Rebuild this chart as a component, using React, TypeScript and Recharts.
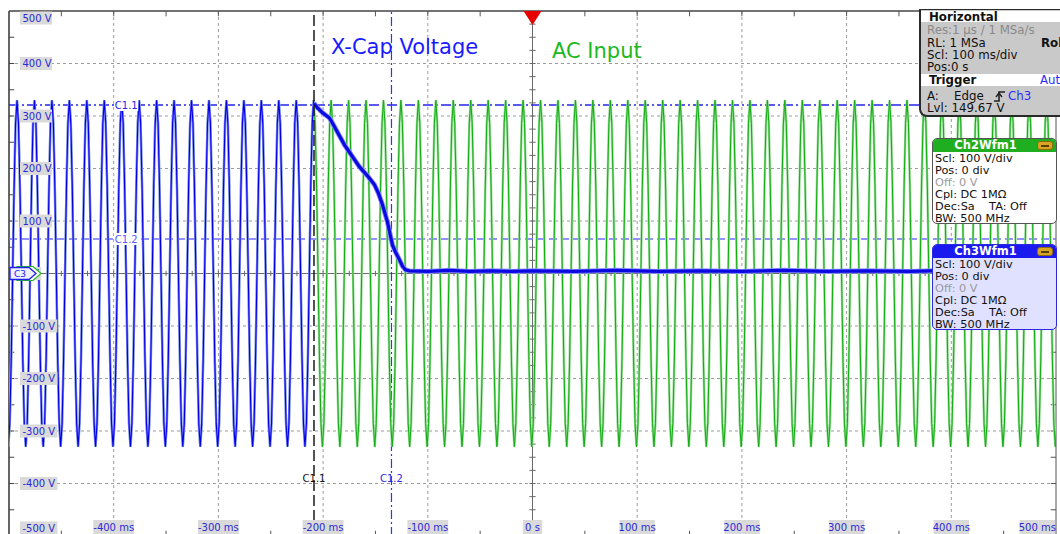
import React from "react";
import { LineChart, Line, XAxis, YAxis, ReferenceLine, ReferenceDot } from "recharts";

// ---------- axis ticks ----------
const timeTicksMs = [-500, -400, -300, -200, -100, 0, 100, 200, 300, 400, 500];
const timeTickLabels = ["", "-400 ms", "-300 ms", "-200 ms", "-100 ms", "0 s", "100 ms", "200 ms", "300 ms", "400 ms", "500 ms"];
const voltTicks = [500, 400, 300, 200, 100, 0, -100, -200, -300, -400, -500];
const voltTickLabels = ["500 V", "400 V", "300 V", "200 V", "100 V", "0 V", "-100 V", "-200 V", "-300 V", "-400 V", "-500 V"];

const acCycleV = [330, 286, 165, 0, -165, -286, -330, -286, -165, 0, 165, 286];
const acPeriodMs = 16.667;
const acFirstPeakMs = -509.0;
const acCycles = 62;

// ---------- cursors ----------
const cursorC11TimeMs = -208.7;
const cursorC12TimeMs = -134.7;
const cursorC11Volt = 321;
const cursorC12Volt = 65.7;

// ---------- X-cap voltage (Ch3) after disconnect ----------
const ch3DischargeT = [-208.7, -205.5, -200.5, -193.9, -192, -186, -179.6, -174.8, -170, -165.2, -157.6, -150.9, -147, -143.3, -138.5, -135.6, -133.7, -130.9, -127, -124.2, -121.3, -117.5, -100, -80, -60, -40, -20, 0, 40, 80, 120, 160, 200, 240, 280, 320, 360, 400, 450, 500];
const ch3DischargeV = [324, 316, 306, 296, 290, 268, 245, 231, 217, 203, 186, 169, 152, 131, 98, 71, 54, 41, 26, 14, 7, 5, 4, 6, 4, 5, 4, 5, 4, 6, 4, 5, 4, 6, 4, 5, 4, 6, 4, 4];

type Pt = { t: number; v: number };

const acInput: Pt[] = [];
for (let c = 0; c < acCycles; c++) {
  for (let j = 0; j < acCycleV.length; j++) {
    const t = acFirstPeakMs + c * acPeriodMs + (j * acPeriodMs) / acCycleV.length;
    if (t <= 512) acInput.push({ t, v: acCycleV[j] });
  }
}
const ch3Ac: Pt[] = acInput.filter((p) => p.t <= cursorC11TimeMs + 0.1);
const ch3Discharge: Pt[] = ch3DischargeT.map((t, i) => ({ t, v: ch3DischargeV[i] }));

const minorBorder = [-450, -350, -250, -150, -50, 50, 150, 250, 350, 450];
const minorCenter: number[] = [];
for (let k = -19; k <= 19; k++) if (k !== 0) minorCenter.push(k * 25);

const FONT = "'DejaVu Sans', Verdana, sans-serif";
const LABEL_BLUE = "#2a2ad8";

const YLabelShape = (label: string, v: number) => (p: any) => {
  const cy = p.cy + (v === 500 ? 7 : v === -500 ? -8 : 0);
  const w = label.length * 5.4 + 5;
  return (
    <g>
      <rect x={p.cx + 11} y={cy - 6.5} width={w} height={13} fill="#dadada" />
      <text x={p.cx + 13.5} y={cy + 3.6} fontSize={10} fill={LABEL_BLUE} fontFamily={FONT}>
        {label}
      </text>
    </g>
  );
};

const XLabelShape = (label: string, t: number) => (p: any) => {
  const w = label.length * 5.4 + 3;
  const cx = t === 500 ? p.cx - w / 2 - 1 : p.cx;
  const cy = p.cy - 9;
  return (
    <g>
      <rect x={cx - w / 2} y={cy - 7} width={w} height={14} fill="#dadada" />
      <text x={cx} y={cy + 3.6} fontSize={10} fill={LABEL_BLUE} fontFamily={FONT} textAnchor="middle">
        {label}
      </text>
    </g>
  );
};

const CursorLabel = (label: string, color: string, bg: boolean) => (p: any) => (
  <g>
    {bg && <rect x={p.cx - 12} y={p.cy - 6} width={24} height={12} fill="#ffffff" />}
    <text x={p.cx} y={p.cy + 3.6} fontSize={10} fill={color} fontFamily={FONT} textAnchor="middle">
      {label}
    </text>
  </g>
);

const TriggerShape = (p: any) => (
  <polygon points={`${p.cx - 9},${p.cy} ${p.cx + 9},${p.cy} ${p.cx},${p.cy + 14}`} fill="#e60000" />
);

const C3Marker = (p: any) => {
  const x = p.cx;
  const y = p.cy;
  return (
    <g>
      <path d={`M${x + 8} ${y - 7} L${x + 24} ${y - 7} L${x + 32} ${y} L${x + 24} ${y + 7} L${x + 8} ${y + 7} Z`} fill="#ffffff" stroke="#22bb22" strokeWidth={1.2} />
      <path d={`M${x + 1} ${y - 6} L${x + 20} ${y - 6} L${x + 27} ${y} L${x + 20} ${y + 6} L${x + 1} ${y + 6} Z`} fill="#eef0ff" stroke="#2020ee" strokeWidth={1.3} />
      <text x={x + 11} y={y + 3.5} fontSize={9} fill="#2020ee" fontFamily={FONT} textAnchor="middle">C3</text>
    </g>
  );
};

const row = (top: number, left: number, text: React.ReactNode, style: React.CSSProperties = {}) => (
  <div style={{ position: "absolute", left, top: top - 7, lineHeight: "14px", whiteSpace: "nowrap", ...style }}>{text}</div>
);

const OrangeIcon = ({ left, top }: { left: number; top: number }) => (
  <div style={{ position: "absolute", left, top, width: 16, height: 9, borderRadius: 3, background: "#d9a520", border: "1px solid #8a6a10", boxSizing: "border-box" }}>
    <div style={{ position: "absolute", left: 3, top: 3, width: 8, height: 1.5, background: "#5a4000" }} />
  </div>
);

const ChannelBox = ({ top, title, header, body, border }: { top: number; title: string; header: string; body: string; border: string }) => (
  <div style={{ position: "absolute", left: 932, top, width: 125, height: 86, borderRadius: 5, background: body, border: `1px solid ${border}`, boxSizing: "border-box", overflow: "hidden", fontSize: 11.3, color: "#111" }}>
    <div style={{ position: "absolute", left: 0, top: 0, width: "100%", height: 13, background: header }} />
    <div style={{ position: "absolute", left: 0, top: -1, width: 105, textAlign: "center", color: "#fff", fontWeight: "bold", fontSize: 11.5, lineHeight: "14px" }}>{title}</div>
    <OrangeIcon left={104} top={2} />
    {row(20, 2, "Scl: 100 V/div")}
    {row(32, 2, "Pos: 0 div")}
    {row(44, 2, "Off: 0 V", { color: "#9a9a9a" })}
    {row(56, 2, "Cpl: DC 1M\u03a9")}
    {row(68, 2, <span>Dec:Sa&nbsp;&nbsp;&nbsp;&nbsp;TA: Off</span>)}
    {row(80, 2, "BW: 500 MHz")}
  </div>
);

export default function App() {
  return (
    <div style={{ position: "fixed", left: 0, top: 0, width: 1060, height: 534, overflow: "hidden", background: "#ffffff", fontFamily: FONT }}>
      <LineChart width={1060} height={540} margin={{ top: 11, right: 4, bottom: 4, left: 9 }}>
        <XAxis type="number" dataKey="t" domain={[-500, 500]} ticks={timeTicksMs} allowDataOverflow hide />
        <YAxis type="number" dataKey="v" domain={[-500, 500]} ticks={voltTicks} allowDataOverflow hide />

        {/* grid */}
        {timeTicksMs.filter((t) => Math.abs(t) !== 500 && t !== 0).map((t) => (
          <ReferenceLine key={`gx${t}`} x={t} stroke="#9c9c9c" strokeDasharray="3 3" />
        ))}
        {voltTicks.filter((v) => Math.abs(v) !== 500 && v !== 0).map((v) => (
          <ReferenceLine key={`gy${v}`} y={v} stroke="#9c9c9c" strokeDasharray="3 3" />
        ))}
        <ReferenceLine x={0} stroke="#6a6a6a" />
        <ReferenceLine y={0} stroke="#6a6a6a" />
        <ReferenceLine x={-500} stroke="#333" strokeWidth={1.5} />
        <ReferenceLine x={500} stroke="#555" strokeWidth={1} />
        <ReferenceLine y={500} stroke="#444" strokeWidth={1.5} />

        {/* border / center ticks */}
        {[...minorBorder, ...voltTicks.filter((v) => Math.abs(v) !== 500)].map((v) => (
          <ReferenceLine key={`lt${v}`} segment={[{ x: -500, y: v }, { x: -495, y: v }]} stroke="#444" />
        ))}
        {[...minorBorder, ...voltTicks.filter((v) => Math.abs(v) !== 500)].map((v) => (
          <ReferenceLine key={`rt${v}`} segment={[{ x: 495, y: v }, { x: 500, y: v }]} stroke="#555" />
        ))}
        {[...minorBorder, ...timeTicksMs.filter((t) => Math.abs(t) !== 500)].map((t) => (
          <ReferenceLine key={`tt${t}`} segment={[{ x: t, y: 500 }, { x: t, y: 490 }]} stroke="#555" />
        ))}
        {[...minorBorder, ...timeTicksMs.filter((t) => Math.abs(t) !== 500)].map((t) => (
          <ReferenceLine key={`bt${t}`} segment={[{ x: t, y: -500 }, { x: t, y: -490 }]} stroke="#555" />
        ))}
        {minorCenter.map((t) => (
          <ReferenceLine key={`cx${t}`} segment={[{ x: t, y: -5 }, { x: t, y: 5 }]} stroke="#6a6a6a" />
        ))}
        {minorCenter.map((v) => (
          <ReferenceLine key={`cy${v}`} segment={[{ x: -3, y: v }, { x: 3, y: v }]} stroke="#6a6a6a" />
        ))}

        {/* cursors */}
        <ReferenceLine y={cursorC11Volt} stroke="#2424e8" strokeWidth={1.3} strokeDasharray="10 3 2 3" />
        <ReferenceLine y={cursorC12Volt} stroke="#7070ff" strokeWidth={1.3} strokeDasharray="8 4" />
        <ReferenceLine x={cursorC12TimeMs} stroke="#3434f0" strokeWidth={1.2} strokeDasharray="9 3 2 3" />

        {/* traces */}
        <Line data={acInput} dataKey="v" type="linear" stroke="#98de98" strokeWidth={2.4} dot={false} isAnimationActive={false} />
        <Line data={acInput} dataKey="v" type="linear" stroke="#12ac12" strokeWidth={1} dot={false} isAnimationActive={false} />
        <Line data={ch3Ac} dataKey="v" type="linear" stroke="#8c8cff" strokeWidth={2.4} dot={false} isAnimationActive={false} />
        <Line data={ch3Ac} dataKey="v" type="linear" stroke="#0000e6" strokeWidth={1.1} dot={false} isAnimationActive={false} />
        <Line data={ch3Discharge} dataKey="v" type="linear" stroke="#8c8cff" strokeWidth={5} dot={false} isAnimationActive={false} />
        <Line data={ch3Discharge} dataKey="v" type="linear" stroke="#0a0ae0" strokeWidth={3.2} dot={false} isAnimationActive={false} />

        <ReferenceLine x={cursorC11TimeMs} stroke="#1a1a1a" strokeWidth={1.5} strokeDasharray="11 4" />

        {/* tick labels */}
        {voltTicks.map((v, i) => (
          <ReferenceDot key={`yl${v}`} x={-500} y={v} r={1} ifOverflow="visible" shape={YLabelShape(voltTickLabels[i], v)} />
        ))}
        {timeTicksMs.map((t, i) =>
          timeTickLabels[i] ? (
            <ReferenceDot key={`xl${t}`} x={t} y={-500} r={1} ifOverflow="visible" shape={XLabelShape(timeTickLabels[i], t)} />
          ) : null
        )}

        <ReferenceDot x={-388} y={cursorC11Volt} r={1} ifOverflow="visible" shape={CursorLabel("C1.1", "#2424e8", true)} />
        <ReferenceDot x={-388} y={cursorC12Volt} r={1} ifOverflow="visible" shape={CursorLabel("C1.2", "#5a5aff", true)} />
        <ReferenceDot x={cursorC11TimeMs} y={-390} r={1} ifOverflow="visible" shape={CursorLabel("C1.1", "#111", false)} />
        <ReferenceDot x={cursorC12TimeMs} y={-390} r={1} ifOverflow="visible" shape={CursorLabel("C1.2", "#2a2ae8", false)} />
        <ReferenceDot x={0} y={500} r={1} ifOverflow="visible" shape={TriggerShape} />
        <ReferenceDot x={-500} y={0} r={1} ifOverflow="visible" shape={C3Marker} />
      </LineChart>

      {/* titles */}
      <div style={{ position: "absolute", left: 331, top: 34, fontSize: 21, color: "#1a1aff", lineHeight: "26px", whiteSpace: "nowrap" }}>X-Cap Voltage</div>
      <div style={{ position: "absolute", left: 552, top: 38, fontSize: 21, color: "#1db81d", lineHeight: "26px", whiteSpace: "nowrap" }}>AC Input</div>

      {/* horizontal / trigger panel */}
      <div style={{ position: "absolute", left: 919, top: 9, width: 150, height: 108, background: "#c9c9c9", borderLeft: "2px solid #2a2a2a", borderBottom: "2px solid #2a2a2a", borderTop: "1px solid #2a2a2a", borderBottomLeftRadius: 8, boxSizing: "border-box", fontSize: 11.8, color: "#111", overflow: "hidden" }}>
        <div style={{ position: "absolute", left: 0, top: 1, width: "100%", height: 11, background: "#ffffff" }} />
        {row(7, 8, "Horizontal", { fontWeight: "bold" })}
        {row(20, 6, "Res:1 \u00b5s / 1 MSa/s", { color: "#8a8a8a" })}
        {row(33, 6, "RL: 1 MSa")}
        {row(33, 120, "Rol", { fontWeight: "bold" })}
        {row(45, 6, "Scl: 100 ms/div")}
        {row(57, 6, "Pos:0 s")}
        <div style={{ position: "absolute", left: 0, top: 64, width: "100%", height: 12, background: "#ffffff" }} />
        {row(70, 8, "Trigger", { fontWeight: "bold" })}
        {row(70, 119, "Aut", { color: "#2a2aff" })}
        {row(86, 6, "A:")}
        {row(86, 33, "Edge")}
        <svg style={{ position: "absolute", left: 72, top: 79 }} width={13} height={13}>
          <polyline points="1,12 6,12 6,3 12,3" fill="none" stroke="#222" strokeWidth={1.6} />
          <polyline points="3,8 6,4 9,8" fill="none" stroke="#222" strokeWidth={1.4} />
        </svg>
        {row(86, 87, "Ch3", { color: "#2a2aff" })}
        {row(98, 6, "Lvl: 149.67 V")}
      </div>

      <ChannelBox top={138} title="Ch2Wfm1" header="#1fae1f" body="#ffffff" border="#555555" />
      <ChannelBox top={244} title="Ch3Wfm1" header="#1a1aee" body="#dfe1ff" border="#2a2ae0" />
    </div>
  );
}
